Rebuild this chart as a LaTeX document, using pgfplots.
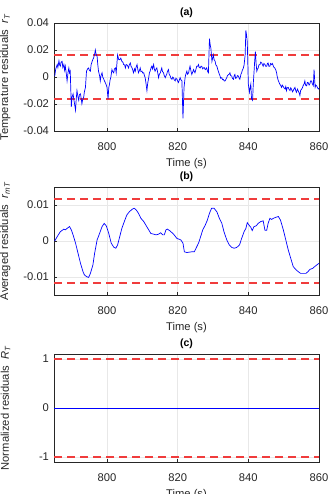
\documentclass[border=0pt]{standalone}
\usepackage{fontspec}
\setmainfont{Liberation Sans}
\usepackage{pgfplots}
\pgfplotsset{compat=1.18}
\definecolor{mgray}{RGB}{38,38,38}
\definecolor{dred}{RGB}{240,60,60}
\pgfplotsset{
 mystyle/.style={
  scale only axis, width=265pt, height=108pt,
  xmin=785, xmax=860, xtick={800,820,840,860},
  scaled y ticks=false, scaled x ticks=false,
  axis line style={mgray, line width=0.5pt},
  tick style={mgray, line width=0.5pt},
  tick align=inside,
  major tick length=3pt,
  xtick pos=bottom, ytick pos=left,
  grid=major, grid style={gray!18, line width=0.4pt},
  ticklabel style={font=\fontsize{11.2}{13}\selectfont, text=mgray},
  xticklabel style={yshift=-8pt},
  yticklabel style={xshift=-1.5pt},
  label style={font=\fontsize{11.2}{13}\selectfont, text=mgray},
  title style={font=\fontsize{10.5}{12}\selectfont\bfseries, text=black, yshift=-4pt},
  /pgf/number format/assume math mode=true,
  xlabel={Time (s)},
  xlabel style={at={(axis description cs:0.5,0)}, anchor=center, yshift=-33pt},
  ylabel style={at={(axis description cs:-0.151,0.5)}, anchor=south},
  clip=true,
 },
 blueline/.style={draw=blue, line width=0.7pt, no marks},
 redline/.style={draw=dred, line width=1.6pt, dash pattern=on 8pt off 5pt, no marks},
}
\begin{document}
\begin{tikzpicture}
\path[use as bounding box] (0,0) rectangle (331pt,-494pt);
% (a)
\begin{axis}[mystyle, at={(54pt,-23pt)}, anchor=north west,
  title={(a)},
  ymin=-0.04, ymax=0.04, ytick={-0.04,-0.02,0,0.02,0.04},
  yticklabels={-0.04,-0.02,0,0.02,0.04},
  ylabel={Temperature residuals\ \ \textit{r}\textsubscript{\textit{T}}}]
\addplot[redline] coordinates {(785,0.0165) (860,0.0165)};
\addplot[redline] coordinates {(785,-0.0165) (860,-0.0165)};
\addplot[blueline] table {
785.2 0.0007
785.5 0.006
785.9 0.0092
786.1 0.007
786.4 0.012
786.6 0.009
786.8 0.008
787.0 0.011
787.3 0.0116
787.5 0.007
787.8 0.0092
788.0 0.005
788.2 0.008
788.5 0.002
788.7 -0.0029
789.0 0.004
789.2 0.0067
789.4 0.003
789.6 0.0043
789.9 -0.0222
790.1 -0.015
790.4 -0.0125
790.7 -0.018
791.1 -0.0246
791.3 -0.016
791.5 -0.0101
791.8 -0.015
792.0 -0.0173
792.2 -0.013
792.5 -0.0125
792.7 -0.016
792.9 -0.0198
793.1 -0.017
793.4 -0.0149
793.6 -0.011
793.9 -0.0077
794.2 0.0043
794.5 0.006
794.8 0.0067
795.0 0.005
795.3 0.0043
795.5 0.009
795.8 0.0116
796.0 0.013
796.2 0.014
796.5 0.017
796.7 0.020
796.9 0.017
797.2 0.0152
797.4 0.009
797.6 0.0043
797.9 0.001
798.1 -0.0029
798.3 0.001
798.6 0.0031
798.8 0.000
799.1 -0.0017
799.3 -0.003
799.5 -0.0041
799.8 -0.006
800.0 -0.0077
800.3 -0.0161
800.5 -0.008
800.7 -0.0053
800.9 -0.002
801.1 0
801.4 0.0055
801.6 0.004
801.9 0.0031
802.1 0.006
802.4 0.0067
802.6 0.0031
803.0 0.0164
803.3 0.013
803.6 0.0128
803.9 0.014
804.2 0.0116
804.5 0.011
804.7 0.0092
805.0 0.009
805.2 0.0067
805.4 0.009
805.6 0.0092
805.9 0.008
806.1 0.0067
806.3 0.009
806.6 0.0104
806.8 0.008
807.1 0.0067
807.3 0.005
807.5 0.0031
807.8 0.006
808.0 0.0043
808.2 0.007
808.5 0.0092
808.7 0.006
808.9 0.0031
809.2 0.005
809.4 0.0067
809.6 0.004
809.9 0.0043
810.1 0.003
810.4 0.0031
810.6 0.001
810.8 -0.0005
811.0 -0.004
811.3 -0.0101
811.5 -0.005
811.8 -0.0005
812.0 0.003
812.2 0.0043
812.5 0.007
812.7 0.0080
812.9 0.006
813.2 0.0092
813.4 0.006
813.6 0.0043
813.9 0.006
814.1 0.0067
814.3 0.004
814.6 -0.0005
814.8 0.002
815.1 0.0031
815.3 0.005
815.5 0.0067
815.7 0.004
816.0 0.0031
816.2 0.001
816.5 -0.0005
816.7 0.001
816.9 0.0019
817.1 0.004
817.4 0.0055
817.6 0.002
817.9 0.0007
818.1 -0.001
818.4 -0.0017
818.6 0.000
818.8 -0.0005
819.0 -0.002
819.3 -0.0029
819.5 -0.001
819.8 -0.0017
820.0 -0.003
820.2 -0.0041
820.5 -0.002
820.7 -0.0005
820.9 -0.002
821.2 -0.0029
821.5 -0.0306
821.8 -0.0077
822.1 -0.0005
822.3 0.002
822.6 0.0043
822.8 0.002
823.1 0.0031
823.3 0.006
823.5 0.0080
823.8 0.004
824.0 0.0019
824.3 0.004
824.5 0.0055
824.7 0.004
824.9 0.0031
825.2 0.006
825.4 0.0080
825.7 0.008
825.9 0.0092
826.1 0.007
826.4 0.0067
826.6 0.008
826.8 0.0080
827.1 0.006
827.3 0.0067
827.5 0.007
827.8 0.0055
828.0 0.006
828.2 0.0067
828.5 0.004
828.7 0.0031
829.0 0.0284
829.2 0.024
829.4 0.0212
829.6 0.015
829.7 0.0116
829.9 0.014
830.1 0.0164
830.3 0.013
830.6 0.0116
830.8 0.009
831.1 0.0080
831.3 0.006
831.5 0.0043
831.8 0.002
832.0 0.0007
832.2 -0.001
832.5 -0.0005
832.7 -0.002
832.9 -0.0017
833.2 -0.003
833.4 -0.0029
833.6 -0.002
833.9 -0.0005
834.1 0.001
834.4 0.0019
834.6 0.002
834.8 0.0031
835.0 0.001
835.3 0.0007
835.5 -0.001
835.8 -0.0017
836.0 0.001
836.2 0.0019
836.4 -0.001
836.7 -0.0005
836.9 0.001
837.2 0.0007
837.4 -0.001
837.6 -0.0017
837.9 0.002
838.1 0.0031
838.3 0.005
838.6 0.0067
838.8 0.009
839.1 0.0164
839.3 0.0345
839.5 0.031
839.7 0.026
840.0 -0.0053
840.3 -0.0113
840.5 -0.008
840.7 -0.0053
840.9 -0.0161
841.2 -0.0173
841.4 -0.005
841.6 0.0031
841.8 0.012
842.0 0.0188
842.2 0.010
842.4 0.0043
842.6 0.006
842.8 0.0067
843.0 0.009
843.3 0.0092
843.5 0.011
843.8 0.0104
844.0 0.009
844.2 0.0080
844.4 0.010
844.7 0.0092
844.9 0.008
845.2 0.0080
845.4 0.010
845.6 0.0104
845.8 0.008
846.1 0.0080
846.3 0.010
846.6 0.0092
846.8 0.010
847.1 0.0080
847.3 0.007
847.5 0.0067
847.8 0.005
848.0 0.0031
848.2 0.000
848.5 -0.0029
848.7 -0.004
848.9 -0.0053
849.1 -0.006
849.4 -0.0077
849.6 -0.006
849.9 -0.0072
850.1 -0.008
850.4 -0.0089
850.6 -0.007
850.8 -0.0101
851.0 -0.008
851.3 -0.0077
851.5 -0.009
851.8 -0.0101
852.0 -0.008
852.2 -0.0089
852.5 -0.011
852.7 -0.0101
852.9 -0.009
853.2 -0.0077
853.4 -0.010
853.6 -0.0113
853.9 -0.009
854.1 -0.0101
854.4 -0.012
854.6 -0.0137
854.8 -0.010
855.1 -0.0089
855.3 -0.008
855.5 -0.0065
855.8 -0.005
856.0 -0.0029
856.2 -0.006
856.5 -0.0065
856.7 -0.004
856.9 -0.0041
857.2 -0.006
857.4 -0.0053
857.6 -0.003
857.9 -0.0029
858.1 -0.005
858.4 -0.0065
858.6 0.0055
858.9 -0.0077
859.1 -0.006
859.3 -0.0065
859.6 -0.008
859.8 -0.0089
860.0 -0.0085
};
\end{axis}
% (b)
\begin{axis}[mystyle, at={(54pt,-187pt)}, anchor=north west,
  title={(b)},
  ymin=-0.015, ymax=0.015, ytick={-0.01,0,0.01},
  yticklabels={-0.01,0,0.01},
  ylabel={Averaged residuals\ \ \textit{r}\textsubscript{\textit{mT}}}]
\addplot[redline] coordinates {(785,0.0116) (860,0.0116)};
\addplot[redline] coordinates {(785,-0.0116) (860,-0.0116)};
\addplot[blueline] table {
785.2 0
785.9 0.0012
786.8 0.0026
787.8 0.0033
788.2 0.0031
788.7 0.0035
789.4 0.004
789.9 0.0031
790.4 0.0017
791.1 -0.0006
791.8 -0.0034
792.5 -0.0062
793.2 -0.0085
793.6 -0.0094
794.2 -0.0099
794.8 -0.0101
795.3 -0.009
796.0 -0.0067
796.5 -0.0034
797.2 0.0003
797.9 0.0021
798.6 0.004
799.2 0.0049
799.8 0.0042
800.5 0.0021
801.2 -0.0006
801.9 -0.0017
802.5 -0.002
803.0 -0.0011
803.6 0.0012
804.2 0.0035
804.9 0.0054
805.6 0.0072
806.3 0.0081
807.1 0.0088
807.7 0.0091
808.3 0.0086
808.9 0.0077
809.6 0.0063
810.4 0.0054
811.0 0.0044
811.8 0.0031
812.4 0.0021
813.2 0.0019
813.9 0.0017
814.6 0.0019
815.2 0.0023
815.8 0.0017
816.2 0.0017
816.7 0.0031
817.1 0.0033
817.7 0.0029
818.4 0.0023
819.0 0.0017
819.8 0.0007
820.4 0.0005
820.9 0.0003
821.5 -0.0006
821.9 -0.003
822.6 -0.0032
823.3 -0.0031
824.0 -0.003
824.7 -0.003
825.2 -0.002
825.9 -0.0006
826.5 0.0012
827.1 0.0031
827.8 0.0044
828.4 0.0058
829.0 0.0077
829.6 0.0091
830.3 0.0091
831.1 0.0081
831.8 0.0063
832.5 0.0049
833.1 0.0026
833.9 0.0003
834.6 -0.0011
835.3 -0.0018
836.0 -0.002
836.7 -0.0018
837.5 -0.0011
838.1 0.0007
838.8 0.0026
839.3 0.0035
839.7 0.0051
840.2 0.0044
840.7 0.0038
841.1 0.0029
841.6 0.004
842.2 0.0042
842.8 0.0049
843.5 0.0054
844.2 0.0056
844.7 0.003
845.2 0.003
845.6 0.0049
846.1 0.0063
846.6 0.006
847.1 0.0063
847.8 0.0066
848.5 0.0068
849.1 0.0058
849.9 0.0031
850.6 0.0003
851.3 -0.0025
852.0 -0.0048
852.7 -0.0071
853.5 -0.008
854.1 -0.0085
854.8 -0.009
855.5 -0.009
856.3 -0.009
856.9 -0.0085
857.4 -0.0079
858.2 -0.0076
858.8 -0.0071
859.3 -0.0067
860.0 -0.0062
};
\end{axis}
% (c)
\begin{axis}[mystyle, at={(54pt,-354pt)}, anchor=north west,
  title={(c)},
  ymin=-1.1, ymax=1.1, ytick={-1,0,1},
  yticklabels={-1,0,1},
  ylabel={Normalized residuals\ \ \textit{R}\textsubscript{\textit{T}}}]
\addplot[redline] coordinates {(785,1) (860,1)};
\addplot[redline] coordinates {(785,-1) (860,-1)};
\addplot[blueline] coordinates {(785,0) (860,0)};
\end{axis}
\end{tikzpicture}
\end{document}
